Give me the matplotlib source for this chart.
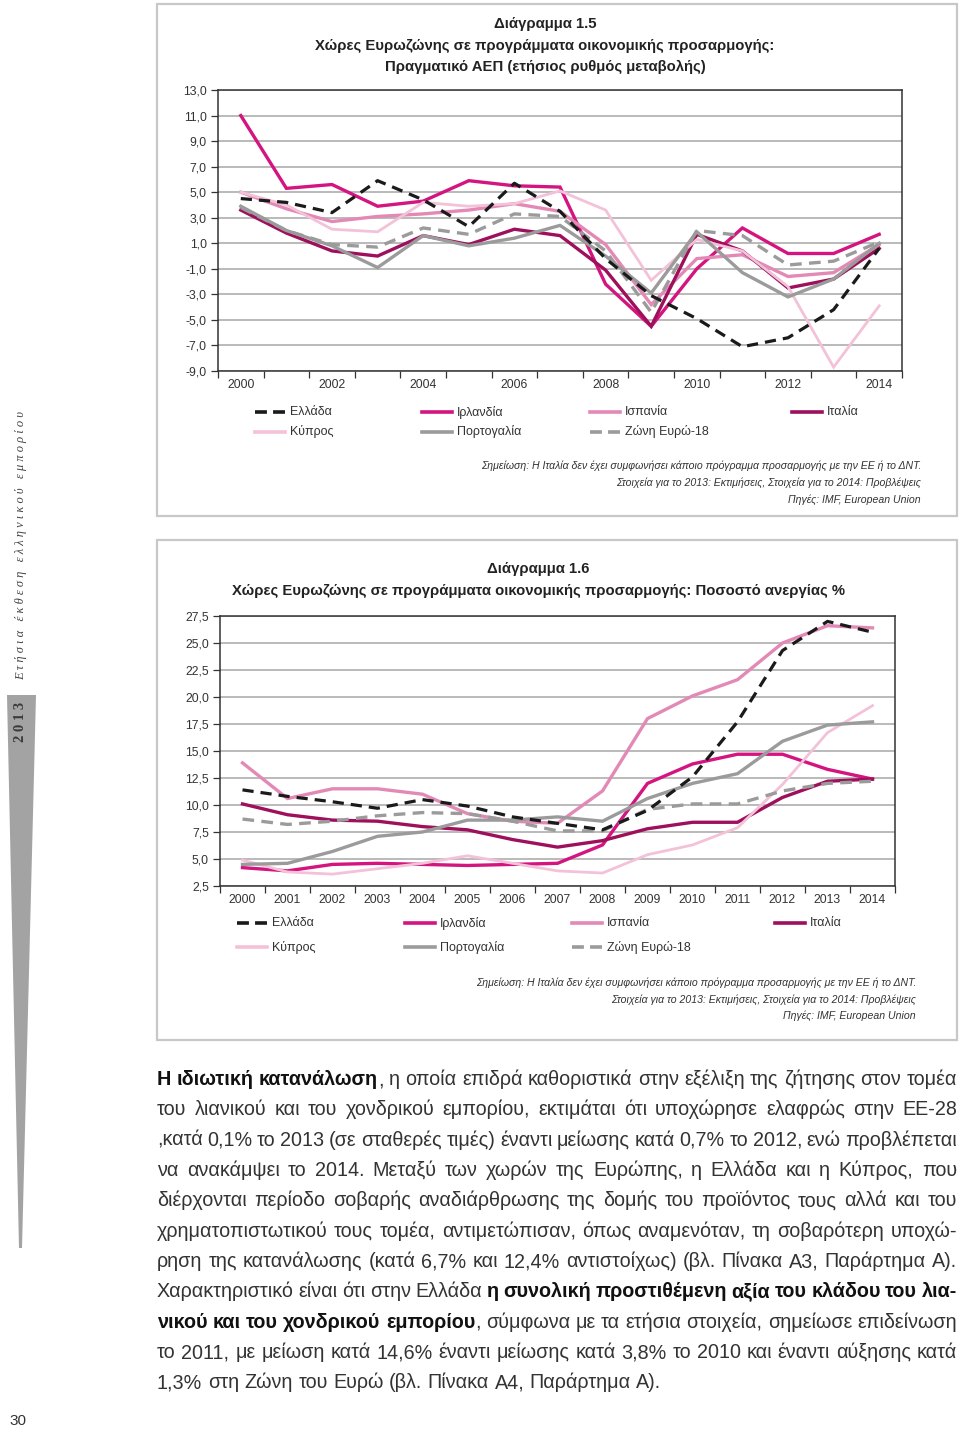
import matplotlib
matplotlib.use("Agg")
import numpy as np
import matplotlib.pyplot as plt
from matplotlib import font_manager
from matplotlib.lines import Line2D
from matplotlib.patches import Rectangle, Polygon
from matplotlib.ticker import FixedLocator, FuncFormatter

W, H = 960, 1431

# --- δεδομένα ---
years = list(range(2000, 2015))
countries = ['Ελλάδα', 'Ιρλανδία', 'Ισπανία', 'Ιταλία', 'Κύπρος', 'Πορτογαλία', 'Ζώνη Ευρώ-18']

# Διάγραμμα 1.5: πραγματικό ΑΕΠ (%)
gdp_greece = [4.5, 4.2, 3.4, 5.9, 4.4, 2.3, 5.7, 3.5, -0.2, -3.1, -4.9, -7.1, -6.4, -4.2, 0.6]
gdp_ireland = [11.0, 5.3, 5.6, 3.9, 4.3, 5.9, 5.5, 5.4, -2.2, -5.5, -1.0, 2.2, 0.2, 0.2, 1.7]
gdp_spain = [5.0, 3.7, 2.7, 3.1, 3.3, 3.6, 4.1, 3.5, 0.9, -3.8, -0.2, 0.1, -1.6, -1.3, 0.9]
gdp_italy = [3.6, 1.8, 0.4, 0.0, 1.6, 0.9, 2.1, 1.6, -1.1, -5.5, 1.7, 0.4, -2.5, -1.8, 0.6]
gdp_cyprus = [5.0, 4.0, 2.1, 1.9, 4.2, 3.9, 4.1, 5.1, 3.6, -1.9, 1.3, 0.4, -2.4, -8.7, -3.9]
gdp_portugal = [3.9, 2.0, 0.8, -0.9, 1.6, 0.8, 1.4, 2.4, 0.0, -2.9, 1.9, -1.3, -3.2, -1.8, 1.0]
gdp_euro = [3.8, 2.0, 0.9, 0.7, 2.2, 1.7, 3.3, 3.1, 0.4, -4.4, 2.0, 1.6, -0.7, -0.4, 1.1]

# Διάγραμμα 1.6: ποσοστό ανεργίας (%)
un_greece = [11.4, 10.8, 10.3, 9.7, 10.5, 9.9, 8.9, 8.3, 7.7, 9.5, 12.6, 17.7, 24.3, 27.0, 26.0]
un_ireland = [4.2, 3.9, 4.5, 4.6, 4.5, 4.4, 4.5, 4.6, 6.3, 12.0, 13.8, 14.7, 14.7, 13.3, 12.4]
un_spain = [13.9, 10.6, 11.5, 11.5, 11.0, 9.2, 8.5, 8.3, 11.3, 18.0, 20.1, 21.6, 25.0, 26.6, 26.4]
un_italy = [10.1, 9.1, 8.6, 8.5, 8.0, 7.7, 6.8, 6.1, 6.7, 7.8, 8.4, 8.4, 10.7, 12.2, 12.4]
un_cyprus = [4.9, 3.8, 3.6, 4.1, 4.6, 5.3, 4.6, 3.9, 3.7, 5.4, 6.3, 7.9, 11.9, 16.7, 19.2]
un_portugal = [4.5, 4.6, 5.7, 7.1, 7.5, 8.6, 8.6, 8.9, 8.5, 10.6, 12.0, 12.9, 15.9, 17.4, 17.7]
un_euro = [8.7, 8.2, 8.5, 9.0, 9.3, 9.2, 8.5, 7.6, 7.6, 9.6, 10.1, 10.1, 11.3, 12.0, 12.2]

gdp_series = [gdp_greece, gdp_ireland, gdp_spain, gdp_italy, gdp_cyprus, gdp_portugal, gdp_euro]
un_series = [un_greece, un_ireland, un_spain, un_italy, un_cyprus, un_portugal, un_euro]

gdp_ticks = list(range(-9, 14, 2))
un_ticks = [2.5, 5.0, 7.5, 10.0, 12.5, 15.0, 17.5, 20.0, 22.5, 25.0, 27.5]

colors = ['#1a1a1a', '#d4147f', '#e389b6', '#9e0f5c', '#f3c2d8', '#9b9b9b', '#9b9b9b']
dashed = [True, False, False, False, False, False, True]
widths = [2.3, 2.4, 2.4, 2.4, 2.0, 2.4, 2.4]

note_lines = ['Σημείωση: Η Ιταλία δεν έχει συμφωνήσει κάποιο πρόγραμμα προσαρμογής με την ΕΕ ή το ΔΝΤ.',
              'Στοιχεία για το 2013: Εκτιμήσεις, Στοιχεία για το 2014: Προβλέψεις',
              'Πηγές: IMF, European Union']

body = [
    '*Η* *ιδιωτική* *κατανάλωση*, η οποία επιδρά καθοριστικά στην εξέλιξη της ζήτησης στον τομέα',
    'του λιανικού και του χονδρικού εμπορίου, εκτιμάται ότι υποχώρησε ελαφρώς στην ΕΕ-28',
    ',κατά 0,1% το 2013 (σε σταθερές τιμές) έναντι μείωσης κατά 0,7% το 2012, ενώ προβλέπεται',
    'να ανακάμψει το 2014. Μεταξύ των χωρών της Ευρώπης, η Ελλάδα και η Κύπρος, που',
    'διέρχονται περίοδο σοβαρής αναδιάρθρωσης της δομής του προϊόντος τους αλλά και του',
    'χρηματοπιστωτικού τους τομέα, αντιμετώπισαν, όπως αναμενόταν, τη σοβαρότερη υποχώ-',
    'ρηση της κατανάλωσης (κατά 6,7% και 12,4% αντιστοίχως) (βλ. Πίνακα Α3, Παράρτημα Α).',
    'Χαρακτηριστικό είναι ότι στην Ελλάδα *η* *συνολική* *προστιθέμενη* *αξία* *του* *κλάδου* *του* *λια-*',
    '*νικού* *και* *του* *χονδρικού* *εμπορίου*, σύμφωνα με τα ετήσια στοιχεία, σημείωσε επιδείνωση',
    'το 2011, με μείωση κατά 14,6% έναντι μείωσης κατά 3,8% το 2010 και έναντι αύξησης κατά',
    '1,3% στη Ζώνη του Ευρώ (βλ. Πίνακα Α4, Παράρτημα Α).',
]

names = {f.name for f in font_manager.fontManager.ttflist}
FONT = 'Liberation Sans Narrow' if 'Liberation Sans Narrow' in names else 'Liberation Sans'
plt.rcParams['font.family'] = [FONT, 'DejaVu Sans']

TITLE = 10.7
TICK = 8.8


def fx(x):
    return x / W


def fy(y):
    return 1 - y / H


def rect(x0, y0, x1, y1):
    return [fx(x0), fy(y1), (x1 - x0) / W, (y1 - y0) / H]


def comma(v, pos):
    return f"{v:.1f}".replace('.', ',')


fig = plt.figure(figsize=(W / 100, H / 100), dpi=100)

# πλαίσια διαγραμμάτων
for (x0, y0, x1, y1) in [(157, 4, 957, 516), (157, 540, 957, 1040)]:
    fig.add_artist(Rectangle((fx(x0), fy(y1)), (x1 - x0) / W, (y1 - y0) / H,
                             transform=fig.transFigure, fill=False,
                             edgecolor='#c8c8c8', lw=1.6))


def draw_chart(box, series, ticks, ylim, label_years):
    ax = fig.add_axes(rect(*box))
    for i, s in enumerate(series):
        ls = (0, (3.5, 2.2)) if dashed[i] else '-'
        ax.plot(years, s, color=colors[i], lw=widths[i], linestyle=ls,
                solid_joinstyle='miter', zorder=3 + (i == 0))
    ax.set_xlim(1999.5, 2014.5)
    ax.set_ylim(*ylim)
    ax.yaxis.set_major_locator(FixedLocator(ticks))
    ax.yaxis.set_major_formatter(FuncFormatter(comma))
    ax.xaxis.set_major_locator(FixedLocator(label_years))
    ax.xaxis.set_minor_locator(FixedLocator(np.arange(1999.5, 2015, 1)))
    ax.tick_params(axis='x', which='major', length=0, pad=6, labelsize=TICK, labelcolor='#333333')
    ax.tick_params(axis='x', which='minor', length=5, width=0.9, color='#333333')
    ax.tick_params(axis='y', length=5, width=0.9, color='#333333', pad=3,
                   labelsize=TICK, labelcolor='#333333')
    ax.yaxis.grid(True, color='#b4b4b4', lw=1.3)
    ax.set_axisbelow(True)
    for sp in ax.spines.values():
        sp.set_color('#333333')
        sp.set_linewidth(1.1)
    return ax


draw_chart((218, 90, 902, 371), gdp_series, gdp_ticks, (-9, 13), years[::2])
draw_chart((220, 616, 895, 886), un_series, un_ticks, (2.5, 27.5), years)

# τίτλοι
fig.text(fx(545), fy(24), 'Διάγραμμα 1.5', ha='center', va='center', fontsize=TITLE, weight='bold', color='#222222')
fig.text(fx(545), fy(46), 'Χώρες Ευρωζώνης σε προγράμματα οικονομικής προσαρμογής:',
         ha='center', va='center', fontsize=TITLE, weight='bold', color='#222222')
fig.text(fx(545), fy(67), 'Πραγματικό ΑΕΠ (ετήσιος ρυθμός μεταβολής)',
         ha='center', va='center', fontsize=TITLE, weight='bold', color='#222222')
fig.text(fx(538), fy(569), 'Διάγραμμα 1.6', ha='center', va='center', fontsize=TITLE, weight='bold', color='#222222')
fig.text(fx(538), fy(591), 'Χώρες Ευρωζώνης σε προγράμματα οικονομικής προσαρμογής: Ποσοστό ανεργίας %',
         ha='center', va='center', fontsize=TITLE, weight='bold', color='#222222')


def legend(cols, rows):
    for i, name in enumerate(countries):
        r, c = divmod(i, 4)
        x0, y = cols[c], rows[r]
        ls = (0, (3.3, 1.7)) if dashed[i] else '-'
        fig.add_artist(Line2D([fx(x0), fx(x0 + 30)], [fy(y), fy(y)], transform=fig.transFigure,
                              color=colors[i], lw=2.6, linestyle=ls))
        fig.text(fx(x0 + 35), fy(y), name, ha='left', va='center', fontsize=9, color='#333333')


legend([255, 422, 590, 792], [412, 432])
legend([237, 405, 572, 775], [923, 947])

for k, line in enumerate(note_lines):
    fig.text(fx(921), fy(466 + 17 * k), line, ha='right', va='center', fontsize=7.6,
             style='italic', color='#333333')
    fig.text(fx(916), fy(983 + 16.5 * k), line, ha='right', va='center', fontsize=7.6,
             style='italic', color='#333333')

# πλευρική μπάρα
fig.add_artist(Polygon([(fx(7), fy(695)), (fx(36), fy(695)), (fx(22), fy(1248)), (fx(19), fy(1248))],
                       closed=True, transform=fig.transFigure, facecolor='#a3a3a3', edgecolor='none'))
fig.text(fx(21), fy(722), '2 0 1 3', rotation=90, ha='center', va='center', fontsize=10.5,
         family='Liberation Serif', weight='bold', color='#3a3a3a')
fig.text(fx(21), fy(546), 'Ε τ ή σ ι α   έ κ θ ε σ η   ε λ λ η ν ι κ ο ύ   ε μ π ο ρ ί ο υ',
         rotation=90, ha='center', va='center', fontsize=9, family='Liberation Serif',
         style='italic', color='#444444')
fig.text(fx(18), fy(1421), '30', ha='center', va='center', fontsize=11, color='#333333')

# κείμενο με πλήρη στοίχιση
renderer = fig.canvas.get_renderer()
BODY_SIZE = 14.2


def text_width(s, bold):
    t = fig.text(0, 0, s, fontsize=BODY_SIZE, weight='bold' if bold else 'normal')
    w = t.get_window_extent(renderer).width
    t.remove()
    return w


space = text_width('a a', False) - text_width('aa', False)
x_left, x_right = 157, 957
for n, line in enumerate(body):
    words = []
    for w in line.split(' '):
        parts = w.split('*')
        pieces = [(p, j % 2 == 1) for j, p in enumerate(parts) if p]
        words.append(pieces)
    wid = [sum(text_width(p, b) for p, b in pc) for pc in words]
    last = n == len(body) - 1
    gap = space if last else (x_right - x_left - sum(wid)) / (len(words) - 1)
    x = x_left
    y = 1085 + n * 30.35
    for pc, ww in zip(words, wid):
        xx = x
        for p, b in pc:
            fig.text(fx(xx), fy(y), p, ha='left', va='baseline', fontsize=BODY_SIZE,
                     weight='bold' if b else 'normal', color='#111111' if b else '#333333')
            xx += text_width(p, b)
        x += ww + gap

fig.savefig('out.png', dpi=100)
